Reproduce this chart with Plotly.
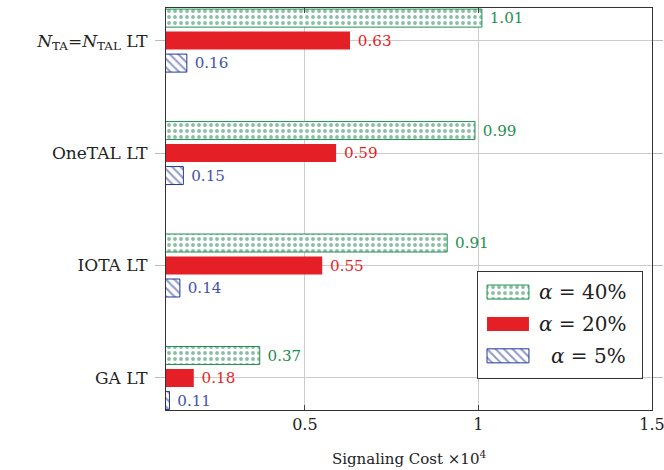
import plotly.graph_objects as go

# Layout types (bottom to top on the y axis)
categories = [
    "GA LT",
    "IOTA LT",
    "OneTAL LT",
    "<i>N</i><sub>TA</sub>=<i>N</i><sub>TAL</sub> LT",
]

# Signaling cost (x 10^4) for each call-to-mobility ratio alpha
cost_alpha_5 = [0.11, 0.14, 0.15, 0.16]
cost_alpha_20 = [0.18, 0.55, 0.59, 0.63]
cost_alpha_40 = [0.37, 0.91, 0.99, 1.01]

x_ticks = [0.5, 1, 1.5]
x_tick_labels = ["0.5", "1", "1.5"]

GREEN = "#1f8f4e"
RED = "#e41f26"
BLUE = "#23369a"
BLUE_TEXT = "#4254a8"
FONT = "DejaVu Serif"

PATTERN_5 = dict(shape="\\", fgcolor=BLUE, bgcolor="white", size=6, solidity=0.35)
PATTERN_40 = dict(shape=".", fgcolor="#13804a", bgcolor="white", size=6, solidity=0.33)

series = [
    ("<i>α</i> = 5%", cost_alpha_5, BLUE, BLUE_TEXT, PATTERN_5),
    ("<i>α</i> = 20%", cost_alpha_20, RED, RED, None),
    ("<i>α</i> = 40%", cost_alpha_40, GREEN, GREEN, PATTERN_40),
]


def bar_marker(col, pattern):
    marker = dict(color="white" if pattern else col,
                  line=dict(color=col, width=1 if pattern else 0))
    if pattern:
        marker["pattern"] = pattern
    return marker


fig = go.Figure()

for name, vals, col, tcol, pattern in series:
    fig.add_trace(go.Bar(
        y=categories, x=vals, orientation="h", name=name,
        marker=bar_marker(col, pattern),
        texttemplate="\u00a0%{x:.2f}", textposition="outside",
        textfont=dict(family=FONT, size=16, color=tcol),
        cliponaxis=False, showlegend=False,
    ))

# Legend box: a small overlay subplot with one swatch row per series
legend_rows = [0, 1, 2]
for row, (name, vals, col, tcol, pattern) in zip(legend_rows, series):
    fig.add_trace(go.Bar(
        y=[row], x=[0.256], base=[0.055], orientation="h", width=0.44,
        marker=bar_marker(col, pattern), xaxis="x2", yaxis="y2",
        showlegend=False, hoverinfo="skip",
    ))
    fig.add_annotation(
        x=0.915, y=row, xref="x2", yref="y2", xanchor="right", yanchor="middle",
        text=name, showarrow=False,
        font=dict(family=FONT, size=20, color="#222222"),
    )

fig.update_layout(
    width=664, height=470,
    margin=dict(l=166, r=12, t=8, b=60),
    barmode="group", bargap=0.4, bargroupgap=0.2,
    plot_bgcolor="white", paper_bgcolor="white",
    font=dict(family=FONT, size=16, color="#222222"),
    showlegend=False,
    xaxis=dict(
        range=[0.1, 1.5], tickvals=x_ticks, ticktext=x_tick_labels,
        showgrid=True, gridcolor="#cccccc", gridwidth=1,
        ticks="inside", ticklen=5, tickcolor="#444444",
        showline=True, linecolor="#333333", linewidth=1.2, mirror="allticks",
        zeroline=False, automargin=False, ticklabeloverflow="allow",
        tickfont=dict(size=16),
        title=dict(text="Signaling Cost ×10<sup>4</sup>", font=dict(size=15), standoff=20),
    ),
    yaxis=dict(
        range=[-0.285, 3.29],
        showgrid=True, gridcolor="#cccccc", gridwidth=1,
        ticks="outside", ticklen=10, tickcolor="#bbbbbb",
        showline=True, linecolor="#333333", linewidth=1.2, mirror="allticks",
        automargin=False, ticklabelstandoff=4,
        tickfont=dict(size=17),
    ),
    xaxis2=dict(
        domain=[0.642, 0.979], anchor="y2", range=[0, 1],
        showgrid=False, zeroline=False, showticklabels=False, ticks="",
        showline=True, linecolor="#333333", linewidth=1.2, mirror=True,
        fixedrange=True,
    ),
    yaxis2=dict(
        domain=[0.080, 0.343], anchor="x2", range=[-0.69, 2.625],
        showgrid=False, zeroline=False, showticklabels=False, ticks="",
        showline=True, linecolor="#333333", linewidth=1.2, mirror=True,
        fixedrange=True,
    ),
)

fig.write_html("out.html")
